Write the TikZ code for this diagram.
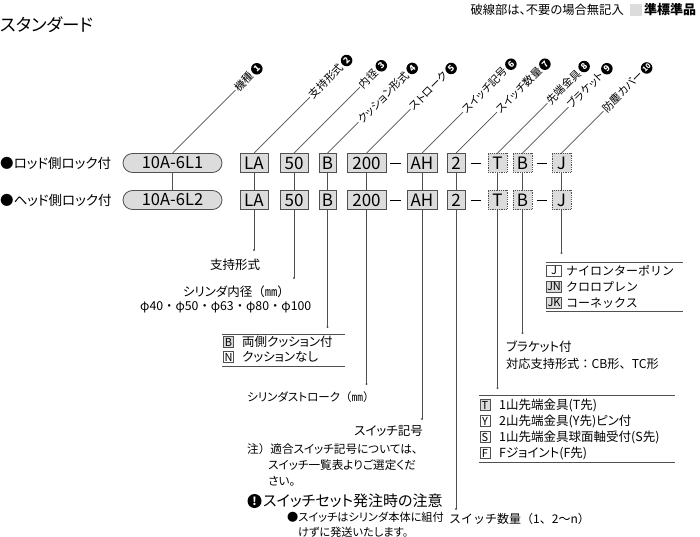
\documentclass[tikz,border=0pt]{standalone}
\usepackage{fontspec}
\setmainfont{Noto Sans CJK JP}[RawFeature=+palt]
\newfontfamily\fw{Noto Sans CJK JP}
\newcommand\fsz[1]{\fontsize{#1}{#1}\selectfont}
\definecolor{boxgray}{HTML}{DCDCDC}
\definecolor{linegray}{HTML}{505050}
\begin{document}
\begin{tikzpicture}[x=1pt,y=-1pt,
  conn/.style={draw=linegray, line width=0.6pt},
  cbox/.style={draw=linegray, fill=boxgray, line width=0.8pt, minimum height=19pt, inner sep=0pt, font=\fsz{17}},
  dbox/.style={cbox, densely dotted},
  pill/.style={cbox, rounded corners=9.5pt, minimum width=99pt, font=\fsz{16.5}},
  toplab/.style={rotate=45, anchor=west, font=\fsz{10.8}, inner sep=1pt},
  numc/.style={circle, fill=black, text=white, rotate=45, anchor=west, minimum size=11.5pt, inner sep=0pt, font=\fsz{8.5}\bfseries},
  rowlab/.style={anchor=west, font=\fsz{13.5}, inner sep=0pt},
  txt/.style={font=\fsz{12.5}, inner sep=0pt},
  lbox/.style={draw=linegray, line width=0.6pt, minimum width=10pt, minimum height=11pt, inner sep=0pt, font=\fsz{11}},
  enddot/.style={fill=linegray}
]
\useasboundingbox (0,0) rectangle (700,537);

% header
\node[anchor=west, font=\fsz{17.5}, inner sep=0pt] (title) at (0,25) {スタンダード};
\node[anchor=east, font=\fsz{12.3}, inner sep=0pt] (note) at (624,10) {破線部は、不要の場合無記入};
\node[fill=boxgray, minimum size=12pt, inner sep=0pt] (gsq) at (636,10) {};
\node[anchor=west, font=\fsz{13}\bfseries, inner sep=0pt] (semi) at (644,10) {準標準品};

% row labels
\node[rowlab] (r1) at (0,163) {●ロッド側ロック付};
\node[rowlab] (r2) at (0,200) {●ヘッド側ロック付};

% row 1
\node[pill] (p1) at (172.5,163) {10A-6L1};
\node[cbox, minimum width=28pt] (la1) at (254,163) {LA};
\node[cbox, minimum width=28pt] (bo1) at (294,163) {50};
\node[cbox, minimum width=17pt] (cu1) at (327.5,163) {B};
\node[cbox, minimum width=39pt] (st1) at (366.5,163) {200};
\node[cbox, minimum width=30pt] (sw1) at (422,163) {AH};
\node[cbox, minimum width=18pt] (sn1) at (456,163) {2};
\node[dbox, minimum width=19pt] (te1) at (497.5,163) {T};
\node[dbox, minimum width=19pt] (br1) at (522.5,163) {B};
\node[dbox, minimum width=19pt] (jc1) at (561.5,163) {J};
% row 2
\node[pill] (p2) at (172.5,200) {10A-6L2};
\node[cbox, minimum width=28pt] (la2) at (254,200) {LA};
\node[cbox, minimum width=28pt] (bo2) at (294,200) {50};
\node[cbox, minimum width=17pt] (cu2) at (327.5,200) {B};
\node[cbox, minimum width=39pt] (st2) at (366.5,200) {200};
\node[cbox, minimum width=30pt] (sw2) at (422,200) {AH};
\node[cbox, minimum width=18pt] (sn2) at (456,200) {2};
\node[dbox, minimum width=19pt] (te2) at (497.5,200) {T};
\node[dbox, minimum width=19pt] (br2) at (522.5,200) {B};
\node[dbox, minimum width=19pt] (jc2) at (561.5,200) {J};

% dashes
\foreach \y in {163,200}{
  \draw[line width=0.9pt] (390,\y) -- (401,\y);
  \draw[line width=0.9pt] (471,\y) -- (481,\y);
  \draw[line width=0.9pt] (537,\y) -- (547,\y);
}

% vertical connectors between rows
\foreach \n in {p,la,bo,cu,st,sw,sn,te,br,jc}{
  \draw[conn] (\n1) -- (\n2);
}

% top labels
\draw[conn] (p1.north) -- ++(63,-63) node[toplab] (t1) {機種};
\draw[conn] (la1.north) -- ++(56,-56) node[toplab] (t2) {支持形式};
\draw[conn] (bo1.north) -- ++(66,-66) node[toplab] (t3) {内径};
\draw[conn] (cu1.north) -- ++(31,-31) node[toplab] (t4) {クッション形式};
\draw[conn] (st1.north) -- ++(44,-44) node[toplab] (t5) {ストローク};
\draw[conn] (sw1.north) -- ++(41,-41) node[toplab] (t6) {スイッチ記号};
\draw[conn] (sn1.north) -- ++(41,-41) node[toplab] (t7) {スイッチ数量};
\draw[conn] (te1.north) -- ++(50,-50) node[toplab] (t8) {先端金具};
\draw[conn] (br1.north) -- ++(46,-46) node[toplab] (t9) {ブラケット};
\draw[conn] (jc1.north) -- ++(42,-42) node[toplab] (t10) {防塵カバー};
\node[numc] (c1) at (t1.east) {1};
\node[numc] (c2) at (t2.east) {2};
\node[numc] (c3) at (t3.east) {3};
\node[numc] (c4) at (t4.east) {4};
\node[numc] (c5) at (t5.east) {5};
\node[numc] (c6) at (t6.east) {6};
\node[numc] (c7) at (t7.east) {7};
\node[numc] (c8) at (t8.east) {8};
\node[numc] (c9) at (t9.east) {9};
\node[numc, font=\fsz{7}\bfseries] (c10) at (t10.east) {10};

% end points of lower connectors
\coordinate (eLA) at (la2 |- 0,250);
\coordinate (eBO) at (bo2 |- 0,278);
\coordinate (eCU) at (cu2 |- 0,327);
\coordinate (eST) at (st2 |- 0,384);
\coordinate (eSW) at (sw2 |- 0,419);
\coordinate (eSN) at (sn2 |- 0,509);
\coordinate (eTE) at (te2 |- 0,388);
\coordinate (eBR) at (br2 |- 0,333);
\coordinate (eJC) at (jc2 |- 0,253);
\draw[conn] (la2) -- (eLA);
\draw[conn] (bo2) -- (eBO);
\draw[conn] (cu2) -- (eCU);
\draw[conn] (st2) -- (eST);
\draw[conn] (sw2) -- (eSW);
\draw[conn] (sn2) -- (eSN);
\draw[conn] (te2) -- (eTE);
\draw[conn] (br2) -- (eBR);
\draw[conn] (jc2) -- (eJC);
\foreach \e in {eLA,eBO,eCU,eST,eSW,eSN,eTE,eBR,eJC}{
  \fill[enddot] (\e) circle (1.2);
}

% annotations
\node[txt] (aLA) at (235,265) {支持形式};
\node[txt, anchor=east] (aBO) at (290,292) {シリンダ内径{\fw（㎜）}};
\node[txt, font=\fw\fsz{12.3}, anchor=west] (aBO2) at (140,307.5) {φ40・φ50・φ63・φ80・φ100};

% cushion legend
\draw[conn] (222,334) -- (345,334);
\draw[conn] (222,366) -- (345,366);
\node[lbox, fill=boxgray] (lB) at (228.5,342) {B};
\node[txt, anchor=west] (lBt) at (242,342) {両側クッション付};
\node[lbox, fill=white] (lN) at (228.5,357) {N};
\node[txt, anchor=west] (lNt) at (242,357) {クッションなし};

\node[txt, anchor=west, font=\fsz{11.5}] (aST) at (247,397) {シリンダストローク{\fw（㎜）}};
\node[txt, anchor=east] (aSW) at (423,431) {スイッチ記号};
\node[txt, anchor=west, font=\fsz{11.6}] (n1) at (247,449) {{\fw 注）}適合スイッチ記号については、};
\node[txt, anchor=west, font=\fsz{11.6}] (n2) at (268,465) {スイッチ一覧表よりご選定くだ};
\node[txt, anchor=west, font=\fsz{11.6}] (n3) at (268,481) {さい。};
\node[circle, fill=black, text=white, minimum size=14pt, inner sep=0pt, font=\fsz{11}\bfseries] (warn) at (254.5,501) {!};
\node[txt, anchor=west, font=\fsz{15}] (w1) at (263,501) {スイッチセット発注時の注意};
\node[txt, anchor=west, font=\fsz{11.2}] (w2) at (287,517) {●スイッチはシリンダ本体に組付};
\node[txt, anchor=west, font=\fsz{11.2}] (w3) at (298,532) {けずに発送いたします。};
\node[txt, anchor=west, font=\fw\fsz{12}] (aSN) at (449,518.5) {スイッチ数量（1、2〜n）};

% bracket
\node[txt, anchor=west] (aBR1) at (506,347) {ブラケット付};
\node[txt, anchor=west, font=\fw\fsz{12.2}] (aBR2) at (506,364) {対応支持形式：CB形、TC形};

% dust cover legend
\draw[conn] (546,262) -- (683,262);
\draw[conn] (546,311) -- (683,311);
\node[lbox, fill=white, minimum width=15pt] (lJ) at (554,271) {J};
\node[txt, anchor=west, font=\fw\fsz{12}] (lJt) at (566,271) {ナイロンターポリン};
\node[lbox, fill=boxgray, minimum width=15pt] (lJN) at (554,287) {JN};
\node[txt, anchor=west, font=\fw\fsz{12}] (lJNt) at (566,287) {クロロプレン};
\node[lbox, fill=boxgray, minimum width=15pt] (lJK) at (554,303) {JK};
\node[txt, anchor=west, font=\fw\fsz{12}] (lJKt) at (566,303) {コーネックス};

% rod end legend
\draw[conn] (479,395) -- (675,395);
\draw[conn] (479,462) -- (675,462);
\node[lbox, fill=boxgray] (lT) at (485,405) {T};
\node[txt, anchor=west] (lTt) at (499,405) {1山先端金具(T先)};
\node[lbox, fill=white] (lY) at (485,421) {Y};
\node[txt, anchor=west] (lYt) at (499,421) {2山先端金具(Y先)ピン付};
\node[lbox, fill=white] (lS) at (485,437) {S};
\node[txt, anchor=west] (lSt) at (499,437) {1山先端金具球面軸受付(S先)};
\node[lbox, fill=white] (lF) at (485,453) {F};
\node[txt, anchor=west] (lFt) at (499,453) {Fジョイント(F先)};
\end{tikzpicture}
\end{document}
